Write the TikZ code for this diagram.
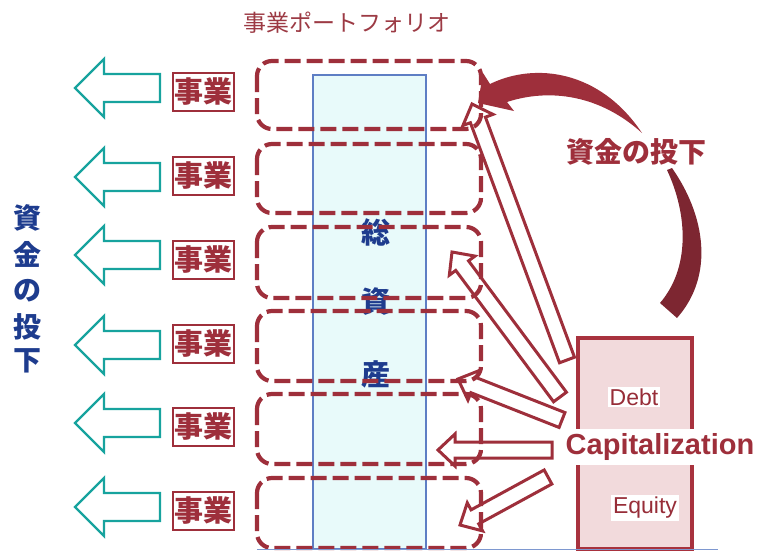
\documentclass[tikz,border=0pt]{standalone}
\usepackage{fontspec}
\setmainfont{Liberation Sans}
\newfontfamily\jp{Noto Sans CJK JP}
\usetikzlibrary{calc}
\definecolor{dred}{HTML}{9E2F3B}
\definecolor{titlered}{HTML}{9C3A44}
\definecolor{dkred}{HTML}{7D2631}
\definecolor{tealc}{HTML}{17A39E}
\definecolor{navy}{HTML}{1E3C8E}
\definecolor{colfill}{HTML}{E8FAFA}
\definecolor{colblue}{HTML}{5E7EC4}
\definecolor{pinkfill}{HTML}{F2DADC}
\definecolor{capred}{HTML}{A8323E}
\tikzset{
  dbox/.style={draw=dred, line width=4.2, dash pattern=on 16pt off 6pt, rounded corners=15},
  tealarrow/.style={draw=tealc, line width=2.4, fill=white, line join=miter},
  harrow/.style={draw=dred, line width=3, fill=white, line join=miter},
  bizlabel/.style={draw=dred, line width=1.8, fill=white, text=dred, inner sep=0, minimum width=61, minimum height=38, font=\jp\bfseries\fontsize{29}{29}\selectfont},
  navytxt/.style={text=navy, inner sep=0, font=\jp\bfseries\fontsize{28}{28}\selectfont},
  coltxt/.style={text=navy, inner sep=0, font=\jp\bfseries\fontsize{29}{29}\selectfont},
  whitelbl/.style={fill=white, inner sep=2, text=dred},
}
\newcommand\hollowarrow[3]{%
  \coordinate (#1-t) at (#2);
  \coordinate (#1-p) at (#3);
  \coordinate (#1-b) at ($(#1-p)!17pt!(#1-t)$);
  \draw[harrow] ($(#1-t)!8pt!90:(#1-p)$) -- ($(#1-b)!8pt!90:(#1-p)$) -- ($(#1-b)!16pt!90:(#1-p)$)
     -- (#1-p) -- ($(#1-b)!16pt!-90:(#1-p)$) -- ($(#1-b)!8pt!-90:(#1-p)$) -- ($(#1-t)!8pt!-90:(#1-p)$) -- cycle;
}
\begin{document}
\begin{tikzpicture}[x=1pt,y=-1pt]
\useasboundingbox (0,0) rectangle (761,552);
% title
\node[text=titlered, inner sep=0, font=\jp\fontsize{23}{23}\selectfont] (title) at (347,23) {事業ポートフォリオ};
% left vertical text
\foreach \ch/\yy [count=\i] in {資/218,金/254,の/291,投/327,下/361}
  \node[navytxt] (v\i) at (27,\yy) {\ch};
% teal arrows and business labels
\foreach \ay/\ly [count=\i] in {88/92,177/176,255/260,345/344,423/427,507/511}{
  \draw[tealarrow] (160,\ay-14) -- (104,\ay-14) -- (104,\ay-29) -- (75,\ay) -- (104,\ay+29) -- (104,\ay+14) -- (160,\ay+14) -- cycle;
  \node[bizlabel] (biz\i) at (203.5,\ly) {事業};
}
% total assets column
\draw[fill=colfill, draw=colblue, line width=2.6] (313,75) rectangle (426,549);
\node[coltxt] (s1) at (376,232) {総};
\node[coltxt] (s2) at (376,302) {資};
\node[coltxt] (s3) at (376,374) {産};
% hollow arrows from capitalization
\hollowarrow{a1}{567,360}{472,104}
\hollowarrow{a2}{560,397}{452,252}
\hollowarrow{a3}{562,420}{458,379}
\hollowarrow{a4}{552,450}{438,450}
\hollowarrow{a5}{548,477}{460,525}
% dashed business boxes
\foreach \ya/\yb [count=\i] in {61/129,144/213,227/298,311/381,394/464,478/548}
  \draw[dbox] (257,\ya) rectangle (481,\yb);
% capitalization box
\draw[fill=pinkfill, draw=capred, line width=4] (578,338) rectangle (692,549);
\draw[colblue!80, line width=1.4] (257,549.5) -- (718,549.5);
\node[whitelbl, text=capred!90!black, font=\fontsize{23}{23}\selectfont] (debt) at (634,397) {Debt};
\node[whitelbl, text=capred!90!black, font=\fontsize{23}{23}\selectfont] (equity) at (645,508) {Equity};
\node[whitelbl, inner xsep=1, inner ysep=4, text=dred, font=\bfseries\fontsize{29}{29}\selectfont] (cap) at (660,447) {Capitalization};
% curved block arrow
\fill[dkred] (672,168) .. controls (705,215) and (715,275) .. (677,318) -- (660,303) .. controls (690,268) and (688,215) .. (667,170) -- cycle;
\fill[dred] (642,133) .. controls (600,70) and (535,62) .. (490,84) -- (483,73) -- (478,103) -- (514,111) -- (507,102) .. controls (550,88) and (600,95) .. (642,133) -- cycle;
\node[text=dred, inner sep=0, font=\jp\bfseries\fontsize{28}{28}\selectfont] (invest) at (636,152) {資金の投下};
\end{tikzpicture}
\end{document}
